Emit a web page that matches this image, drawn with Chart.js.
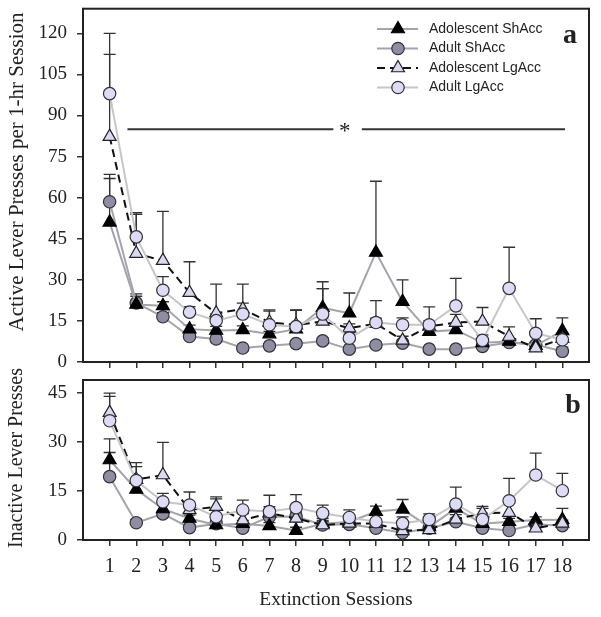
<!DOCTYPE html>
<html>
<head>
<meta charset="utf-8">
<script src="https://cdn.jsdelivr.net/npm/chart.js@4.4.0/dist/chart.umd.min.js"></script>
<style>
  html, body { margin: 0; padding: 0; background: #fff; }
  #wrap { position: relative; width: 601px; height: 617px; }
  canvas { position: absolute; left: 0; }
  #activeChart { top: 0; }
  #inactiveChart { top: 355px; }
</style>
</head>
<body>
<div id="wrap">
  <canvas id="activeChart" width="601" height="375"></canvas>
  <canvas id="inactiveChart" width="601" height="262"></canvas>
</div>
<script>
const sessions = [1, 2, 3, 4, 5, 6, 7, 8, 9, 10, 11, 12, 13, 14, 15, 16, 17, 18]
const groupNames = ['Adolescent ShAcc', 'Adult ShAcc', 'Adolescent LgAcc', 'Adult LgAcc']
const activeTicks = [0, 15, 30, 45, 60, 75, 90, 105, 120]
const inactiveTicks = [0, 15, 30, 45]

// active lever presses (means and upper SEM)
const activeAdolShort = [51, 21, 20.5, 12, 11.5, 11.7, 10.2, 12, 19.8, 17.8, 40, 22, 11.1, 11.7, 7, 7.5, 6, 11.4]
const activeAdolShortSem = [16, 3, 1.5, 1.5, 1.5, 1.5, 1, 1, 9.5, 7.4, 26, 8, 1.5, 2.5, 1, 1, 1, 4.7]
const activeAdultShort = [58.5, 21.6, 16.5, 9.3, 8.4, 5.1, 5.9, 6.7, 7.7, 4.7, 6.2, 6.9, 4.7, 4.7, 5.7, 7.1, 6.3, 3.9]
const activeAdultShortSem = [10, 3.3, 1.5, 1, 1, 0.8, 0.8, 0.8, 1, 0.8, 1, 1, 0.7, 0.7, 0.8, 1, 1, 1.5]
const activeAdolLong = [82.3, 39.6, 37, 25.3, 17.8, 19.3, 14.5, 13.5, 14.8, 12.4, 14, 7.9, 13, 14.4, 14.8, 9.3, 5.1, 8.5]
const activeAdolLongSem = [30, 14.3, 18, 11.3, 10.6, 9.1, 4.5, 5.5, 12, 1.5, 2, 1.5, 2, 3, 5.1, 3.5, 1, 2]
const activeAdultLong = [98, 45.7, 26.2, 18.2, 15.1, 17.5, 13.6, 12.9, 17.5, 8.7, 14.4, 13.6, 13.6, 20.5, 7.9, 26.9, 10.5, 8.1]
const activeAdultLongSem = [22, 8.8, 5, 2, 2.5, 4, 5, 6, 9.3, 2, 8, 2.5, 6.5, 10, 2, 15, 5.3, 2]

// inactive lever presses
const inactiveAdolShort = [24.5, 15.5, 9.5, 6.6, 4.6, 5, 4.3, 2.9, 5, 5.5, 8.7, 9.4, 4, 9.7, 5, 5.6, 6.1, 6.2]
const inactiveAdolShortSem = [6.5, 2, 1.5, 1, 1, 1, 1, 1, 1, 1, 1.7, 3, 1, 1, 1, 1, 1, 3.5]
const inactiveAdultShort = [19.4, 5.3, 8, 3.8, 5, 3.6, 7.1, 7.2, 4.6, 4.8, 3.6, 2.2, 3.6, 5.6, 3.6, 2.9, 4.8, 4.4]
const inactiveAdultShortSem = [7.4, 1, 1, 1, 1, 1, 1, 1, 1, 1, 1, 1, 1, 1, 1, 1, 1, 1]
const inactiveAdolLong = [39, 18.5, 19.9, 9.2, 10.2, 6.1, 8.2, 6.6, 4.6, 5.1, 5, 2.8, 3.1, 6.3, 8.2, 8.4, 3.6, 5.1]
const inactiveAdolLongSem = [6, 4, 10, 2, 3, 2, 2, 2, 2, 1.5, 1, 1, 1, 1.5, 1.5, 3, 1, 1]
const inactiveAdultLong = [36.5, 18.2, 11.7, 10.7, 7.1, 9.2, 8.7, 9.9, 8.2, 6.9, 5.6, 5.1, 6.3, 11, 6.3, 12, 19.9, 15.1]
const inactiveAdultLongSem = [7.5, 5.5, 2.6, 4, 5.5, 3, 5, 4, 2.5, 2.3, 2, 2, 1.7, 5.2, 4, 6.9, 6.7, 5.3]

const serif = "'Liberation Serif', 'Times New Roman', serif"
const sans = "'Liberation Sans', Arial, sans-serif"
const ink = '#222'

const groupStyles = [
  { pointStyle: 'triangle', pointRadius: 7.5, pointBackgroundColor: '#000', pointBorderColor: '#000', borderColor: '#a4a4ac', borderDash: [], order: 2 },
  { pointStyle: 'circle', pointRadius: 6.2, pointBackgroundColor: '#8d8da3', pointBorderColor: '#333', borderColor: '#a4a4ac', borderDash: [], order: 3 },
  { pointStyle: 'triangle', pointRadius: 7.5, pointBackgroundColor: '#d9d9f3', pointBorderColor: '#222', borderColor: '#111', borderDash: [8, 5], order: 1 },
  { pointStyle: 'circle', pointRadius: 6.2, pointBackgroundColor: '#dcdcf8', pointBorderColor: '#333', borderColor: '#c6c6c8', borderDash: [], order: 0 }
]

function makeDatasets(series, sems) {
  return series.map((vals, k) => ({
    label: groupNames[k],
    data: sessions.map((s, i) => ({ x: s, y: vals[i] })),
    sem: sems[k],
    borderWidth: 2,
    pointBorderWidth: 1.2,
    tension: 0,
    ...groupStyles[k]
  }))
}

const errorBars = {
  id: 'errorBars',
  beforeDatasetsDraw(chart) {
    const { ctx, scales: { x, y } } = chart
    ctx.save()
    ctx.strokeStyle = '#333'
    ctx.lineWidth = 1.3
    chart.data.datasets.forEach(ds => {
      ds.data.forEach((p, i) => {
        const px = x.getPixelForValue(p.x)
        const y0 = y.getPixelForValue(p.y)
        const y1 = y.getPixelForValue(p.y + ds.sem[i])
        ctx.beginPath()
        ctx.moveTo(px, y0)
        ctx.lineTo(px, y1)
        ctx.moveTo(px - 6, y1)
        ctx.lineTo(px + 6, y1)
        ctx.stroke()
      })
    })
    ctx.restore()
  }
}

const frame = {
  id: 'frame',
  beforeDatasetsDraw(chart) {
    const { ctx, chartArea: a } = chart
    ctx.save()
    ctx.strokeStyle = ink
    ctx.lineWidth = 2
    ctx.strokeRect(a.left, a.top, a.right - a.left, a.bottom - a.top)
    ctx.restore()
  }
}

const panelLabel = {
  id: 'panelLabel',
  afterDraw(chart, args, opts) {
    const { ctx } = chart
    ctx.save()
    ctx.fillStyle = ink
    ctx.font = 'bold 28px ' + serif
    ctx.textAlign = 'center'
    ctx.textBaseline = 'alphabetic'
    ctx.fillText(opts.text, opts.x, opts.y)
    ctx.restore()
  }
}

// rotated y title, drawn here so it is not squeezed to the plot height
const sideTitle = {
  id: 'sideTitle',
  afterDraw(chart, args, opts) {
    const { ctx } = chart
    ctx.save()
    ctx.translate(opts.x, opts.y)
    ctx.rotate(-Math.PI / 2)
    ctx.fillStyle = ink
    ctx.font = opts.size + 'px ' + serif
    ctx.textAlign = 'center'
    ctx.textBaseline = 'middle'
    ctx.fillText(opts.text, 0, 0)
    ctx.restore()
  }
}

const groupLegend = {
  id: 'groupLegend',
  afterDraw(chart, args, opts) {
    if (!opts.display) return
    const { ctx } = chart
    ctx.save()
    chart.data.datasets.forEach((ds, k) => {
      const y = opts.top + k * opts.rowHeight
      ctx.strokeStyle = ds.borderColor
      ctx.lineWidth = ds.borderWidth
      ctx.setLineDash(ds.borderDash)
      ctx.beginPath()
      ctx.moveTo(opts.left, y)
      ctx.lineTo(opts.left + 41, y)
      ctx.stroke()
      ctx.setLineDash([])
      ctx.fillStyle = ds.pointBackgroundColor
      ctx.strokeStyle = ds.pointBorderColor
      ctx.lineWidth = ds.pointBorderWidth
      Chart.helpers.drawPoint(ctx, { pointStyle: ds.pointStyle, radius: ds.pointRadius, rotation: 0, borderWidth: ds.pointBorderWidth }, opts.left + 21, y)
      ctx.fillStyle = ink
      ctx.font = '14px ' + sans
      ctx.textBaseline = 'middle'
      ctx.fillText(ds.label, opts.left + 52, y)
    })
    ctx.restore()
  }
}

// horizontal line with asterisk across sessions 2-18
const significance = {
  id: 'significance',
  afterDraw(chart, args, opts) {
    if (!opts.display) return
    const { ctx, scales: { x, y } } = chart
    const py = y.getPixelForValue(opts.level)
    ctx.save()
    ctx.strokeStyle = '#333'
    ctx.lineWidth = 2
    opts.spans.forEach(([a, b]) => {
      ctx.beginPath()
      ctx.moveTo(x.getPixelForValue(a), py)
      ctx.lineTo(x.getPixelForValue(b), py)
      ctx.stroke()
    })
    ctx.fillStyle = ink
    ctx.font = '23px ' + serif
    ctx.textAlign = 'center'
    ctx.textBaseline = 'alphabetic'
    ctx.fillText('*', x.getPixelForValue(opts.star), py + 9)
    ctx.restore()
  }
}

function xAxis(withLabels) {
  return {
    type: 'linear',
    min: 0,
    max: 19,
    afterBuildTicks: s => { s.ticks = sessions.map(v => ({ value: v })) },
    afterFit: s => {
      s.height = withLabels ? 77 : 13
      s.paddingLeft = 0
      s.paddingRight = 0
    },
    border: { display: false },
    grid: { drawOnChartArea: false, tickLength: 6, color: '#333', lineWidth: 1.5 },
    ticks: { display: withLabels, padding: 9, color: ink, autoSkip: false, maxRotation: 0, font: { family: serif, size: 20 } },
    title: { display: withLabels, text: 'Extinction Sessions', color: ink, font: { family: serif, size: 19.5 }, padding: { top: 0, bottom: 5 } }
  }
}

function yAxis(max, ticks) {
  return {
    min: 0,
    max: max,
    afterBuildTicks: s => { s.ticks = ticks.map(v => ({ value: v })) },
    afterFit: s => {
      s.width = 83
      s.paddingTop = 0
      s.paddingBottom = 0
    },
    border: { display: false },
    grid: { drawOnChartArea: false, tickLength: 6, color: '#333', lineWidth: 1.5 },
    ticks: { padding: 10, color: ink, font: { family: serif, size: 19 } }
  }
}

function makeChart(id, datasets, opts) {
  return new Chart(document.getElementById(id), {
    type: 'line',
    data: { datasets },
    options: {
      responsive: false,
      animation: false,
      layout: { padding: { left: 0, right: 12, top: opts.padTop, bottom: 0 } },
      scales: {
        x: xAxis(opts.xLabels),
        y: yAxis(opts.yMax, opts.yTicks)
      },
      plugins: {
        legend: { display: false },
        tooltip: { enabled: false },
        panelLabel: opts.panel,
        sideTitle: opts.title,
        groupLegend: { display: opts.legend, left: 377, top: 29, rowHeight: 19.5 },
        significance: { display: opts.legend, level: 85, spans: [[1.67, 9.4], [10.47, 18.1]], star: 9.83 }
      }
    },
    plugins: [frame, errorBars, panelLabel, sideTitle, groupLegend, significance]
  })
}

makeChart('activeChart',
  makeDatasets([activeAdolShort, activeAdultShort, activeAdolLong, activeAdultLong],
    [activeAdolShortSem, activeAdultShortSem, activeAdolLongSem, activeAdultLongSem]),
  { padTop: 7, xLabels: false, yMax: 129, yTicks: activeTicks, legend: true,
    title: { text: 'Active Lever Presses per 1-hr Session', size: 21, x: 17, y: 172 },
    panel: { text: 'a', x: 570, y: 43 } })

makeChart('inactiveChart',
  makeDatasets([inactiveAdolShort, inactiveAdultShort, inactiveAdolLong, inactiveAdultLong],
    [inactiveAdolShortSem, inactiveAdultShortSem, inactiveAdolLongSem, inactiveAdultLongSem]),
  { padTop: 25, xLabels: true, yMax: 49, yTicks: inactiveTicks, legend: false,
    title: { text: 'Inactive Lever Presses', size: 20, x: 17, y: 103 },
    panel: { text: 'b', x: 573, y: 58 } })
</script>
</body>
</html>
